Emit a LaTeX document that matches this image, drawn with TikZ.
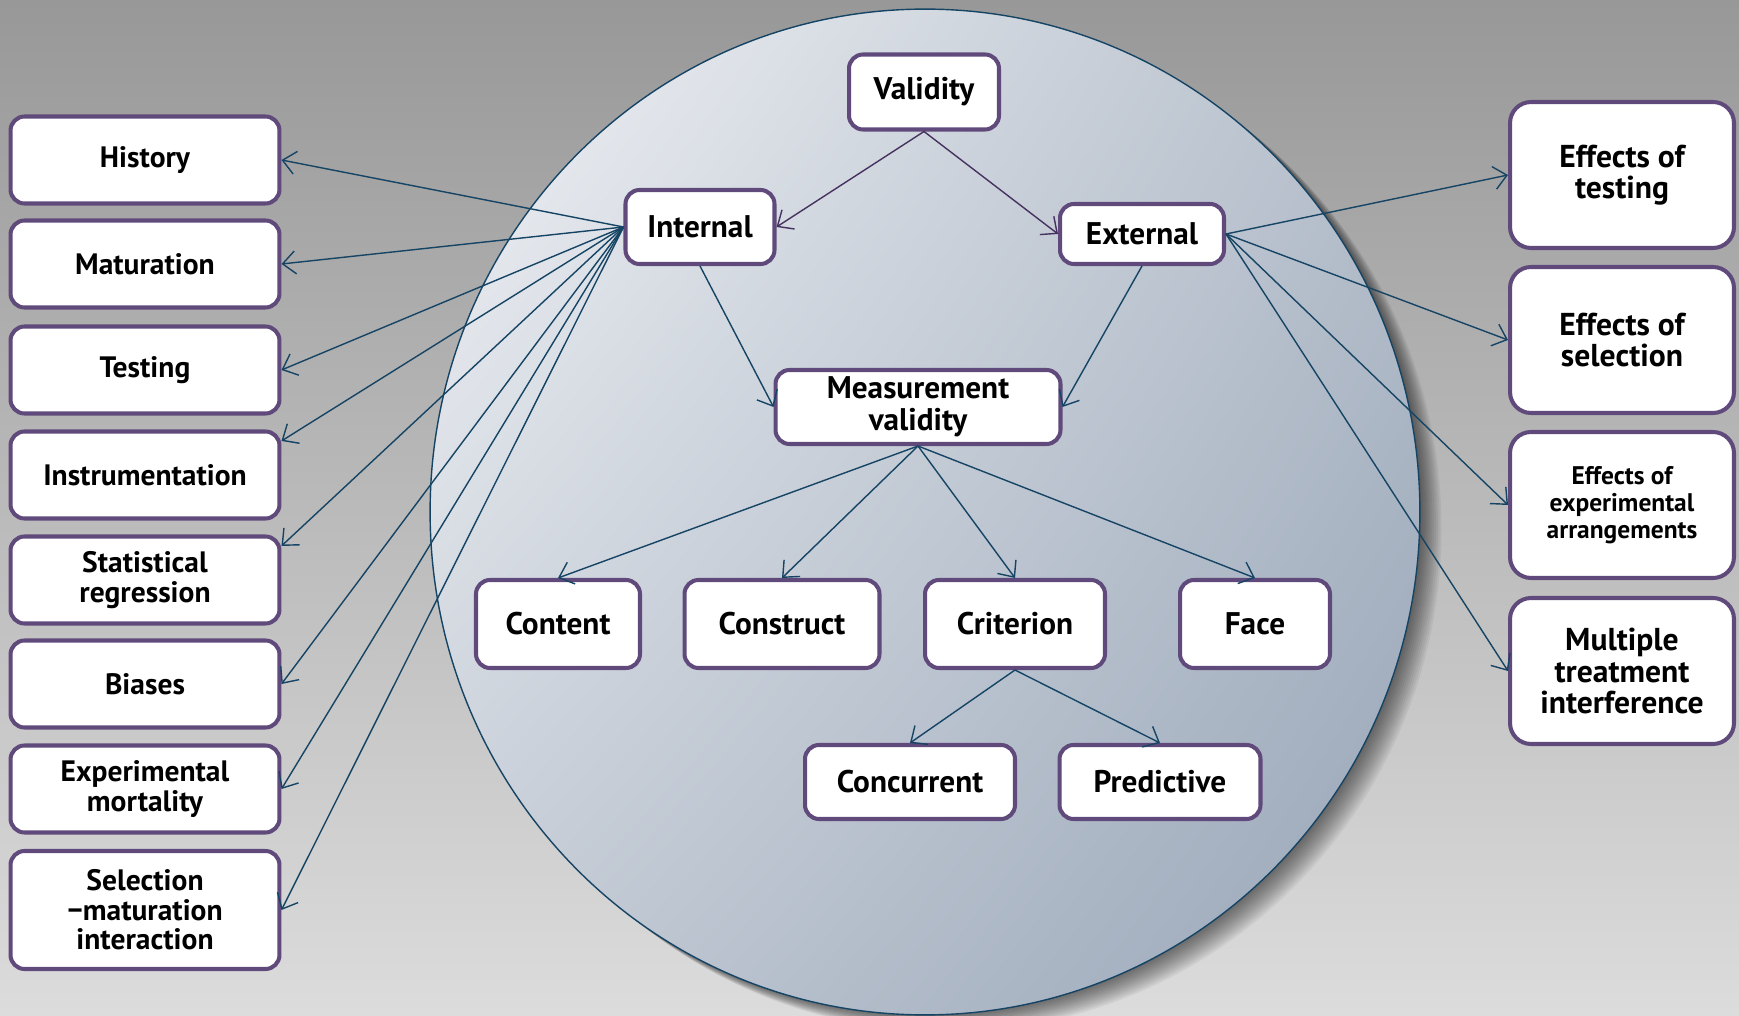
\documentclass[tikz,border=0pt]{standalone}
\usepackage{fontspec}
\setmainfont{PT Sans}
\usetikzlibrary{arrows.meta, positioning, calc, shadings}
\definecolor{boxpurple}{RGB}{96, 74, 123}
\definecolor{linkblue}{RGB}{22, 68, 100}
\definecolor{linkpurple}{RGB}{70, 50, 96}
\definecolor{bgtop}{RGB}{152, 152, 152}
\definecolor{bgbottom}{RGB}{220, 220, 220}
\definecolor{ellUL}{RGB}{242, 244, 247}
\definecolor{ellUR}{RGB}{182, 191, 203}
\definecolor{ellLL}{RGB}{196, 203, 213}
\definecolor{ellLR}{RGB}{152, 166, 184}

\begin{document}
\begin{tikzpicture}[x=0.02cm, y=-0.02cm, >={Straight Barb[length=2.6mm, width=4.6mm]},
  box/.style={draw=boxpurple, line width=2.3pt, fill=white, rounded corners=0.28cm, align=center, inner sep=1pt, font=\bfseries\fontsize{17.8}{18}\selectfont},
  lbox/.style={box, minimum width=5.38cm, minimum height=1.74cm, font=\bfseries\fontsize{16.8}{16.8}\selectfont},
  rbox/.style={box, minimum width=4.48cm, minimum height=2.92cm, rounded corners=0.42cm, font=\bfseries\fontsize{18}{18}\selectfont},
  link/.style={->, linkblue, line width=0.8pt}]
  \useasboundingbox (0,0) rectangle (1739,1016);
  \shade[top color=bgtop, bottom color=bgbottom] (0,0) rectangle (1739,1016);

  \foreach \i in {1,...,12}
    \fill[black, opacity=0.05] (925+\i*1.8,512+\i*1.4) ellipse [x radius=9.9cm, y radius=10.06cm];
  \shadedraw[draw=linkblue, line width=0.8pt, upper left=ellUL, upper right=ellUR, lower left=ellLL, lower right=ellLR] (925,512) ellipse [x radius=9.9cm, y radius=10.06cm];

  \node[box, minimum width=3.0cm, minimum height=1.5cm] (validity) at (924,92) {Validity};
  \node[box, minimum width=2.98cm, minimum height=1.48cm] (internal) at (700,227) {Internal};
  \node[box, minimum width=3.28cm, minimum height=1.2cm] (external) at (1142,234) {External};
  \node[box, minimum width=5.7cm, minimum height=1.48cm] (measure) at (918,407) {Measurement\\validity};

  \node[box, minimum width=3.28cm, minimum height=1.76cm] (content) at (558,624) {Content};
  \node[box, minimum width=3.9cm, minimum height=1.76cm] (construct) at (782,624) {Construct};
  \node[box, minimum width=3.6cm, minimum height=1.76cm] (criterion) at (1015,624) {Criterion};
  \node[box, minimum width=3.0cm, minimum height=1.76cm] (face) at (1255,624) {Face};
  \node[box, minimum width=4.2cm, minimum height=1.48cm] (concurrent) at (910,782) {Concurrent};
  \node[box, minimum width=4.02cm, minimum height=1.48cm] (predictive) at (1160,782) {Predictive};

  \node[lbox] (history) at (145,160) {History};
  \node[lbox] (maturation) at (145,264) {Maturation};
  \node[lbox] (testing) at (145,370) {Testing};
  \node[lbox] (instrument) at (145,475) {Instrumentation};
  \node[lbox] (statreg) at (145,580) {Statistical\\regression};
  \node[lbox] (biases) at (145,684) {Biases};
  \node[lbox] (mortality) at (145,789) {Experimental\\mortality};
  \node[lbox, minimum height=2.36cm] (selmat) at (145,910) {Selection\\−maturation\\interaction};

  \node[rbox] (efftest) at (1622,175) {Effects of\\testing};
  \node[rbox] (effsel) at (1622,340) {Effects of\\selection};
  \node[rbox, font=\bfseries\fontsize{14.5}{15.5}\selectfont] (effarr) at (1622,505) {Effects of\\experimental\\arrangements};
  \node[rbox] (multiple) at (1622,671) {Multiple\\treatment\\interference};

  \draw[link, linkpurple] (validity.south) -- (internal.east);
  \draw[link, linkpurple] (validity.south) -- (external.west);
  \draw[link] (internal.south) -- (measure.west);
  \draw[link] (external.south) -- (measure.east);
  \foreach \t in {content, construct, criterion, face}
    \draw[link] (measure.south) -- (\t.north);
  \foreach \t in {concurrent, predictive}
    \draw[link] (criterion.south) -- (\t.north);
  \foreach \t/\a in {history/east, maturation/east, testing/east, instrument/14, statreg/14, biases/east, mortality/east, selmat/east}
    \draw[link] (internal.west) -- (\t.\a);
  \foreach \t in {efftest, effsel, effarr, multiple}
    \draw[link] (external.east) -- (\t.west);
\end{tikzpicture}
\end{document}
